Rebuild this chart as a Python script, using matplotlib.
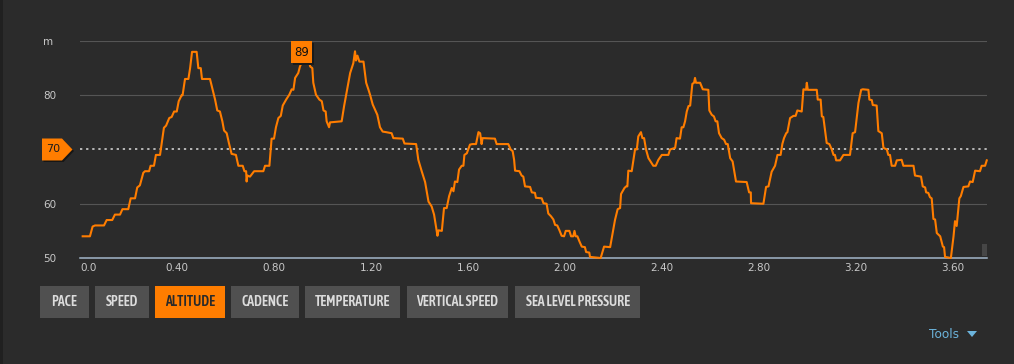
import matplotlib
matplotlib.use('Agg')
import matplotlib.pyplot as plt
from matplotlib.patches import Rectangle, Polygon
from matplotlib import font_manager
from matplotlib.font_manager import FontProperties

W, H = 1014, 364
BG = '#2b2b2b'
ORANGE = '#ff7d00'

# altitude profile (km, m)
dist_km = [0.011, 0.041, 0.052, 0.062, 0.099, 0.110, 0.133, 0.144, 0.165, 0.175,
           0.199, 0.209, 0.227, 0.236, 0.247, 0.261, 0.268, 0.285, 0.291, 0.305,
           0.313, 0.330, 0.346, 0.355, 0.368, 0.378, 0.388, 0.399, 0.407, 0.419,
           0.423, 0.433, 0.447, 0.454, 0.462, 0.481, 0.488, 0.498, 0.503, 0.536,
           0.547, 0.557, 0.566, 0.577, 0.587, 0.594, 0.605, 0.614, 0.625, 0.643,
           0.653, 0.671, 0.678, 0.685, 0.687, 0.690, 0.701, 0.718, 0.749, 0.756,
           0.763, 0.781, 0.790, 0.800, 0.808, 0.818, 0.828, 0.836, 0.850, 0.863,
           0.873, 0.880, 0.887, 0.900, 0.907, 0.914, 0.925, 0.933, 0.940, 0.946,
           0.949, 0.958, 0.962, 0.973, 0.987, 0.997, 1.004, 1.013, 1.017, 1.027,
           1.031, 1.079, 1.089, 1.100, 1.114, 1.127, 1.134, 1.138, 1.144, 1.152,
           1.169, 1.180, 1.189, 1.196, 1.207, 1.217, 1.226, 1.237, 1.248, 1.262,
           1.285, 1.292, 1.331, 1.338, 1.386, 1.395, 1.409, 1.423, 1.437, 1.450,
           1.460, 1.468, 1.474, 1.478, 1.492, 1.501, 1.512, 1.522, 1.533, 1.540,
           1.546, 1.556, 1.563, 1.574, 1.581, 1.585, 1.595, 1.608, 1.618, 1.633,
           1.643, 1.650, 1.656, 1.660, 1.711, 1.718, 1.766, 1.776, 1.784, 1.790,
           1.794, 1.812, 1.821, 1.828, 1.835, 1.856, 1.863, 1.876, 1.880, 1.904,
           1.911, 1.924, 1.931, 1.942, 1.952, 1.959, 1.968, 1.977, 1.986, 1.996,
           2.003, 2.018, 2.025, 2.034, 2.039, 2.044, 2.051, 2.059, 2.069, 2.082,
           2.087, 2.100, 2.103, 2.147, 2.161, 2.186, 2.197, 2.206, 2.217, 2.227,
           2.231, 2.245, 2.252, 2.257, 2.261, 2.275, 2.282, 2.289, 2.296, 2.302,
           2.313, 2.319, 2.326, 2.334, 2.344, 2.357, 2.364, 2.374, 2.385, 2.399,
           2.426, 2.433, 2.454, 2.460, 2.474, 2.481, 2.488, 2.495, 2.502, 2.509,
           2.516, 2.525, 2.532, 2.536, 2.540, 2.557, 2.568, 2.591, 2.595, 2.605,
           2.614, 2.621, 2.628, 2.635, 2.646, 2.656, 2.664, 2.671, 2.681, 2.691,
           2.705, 2.749, 2.759, 2.766, 2.767, 2.818, 2.829, 2.839, 2.852, 2.866,
           2.876, 2.889, 2.896, 2.903, 2.912, 2.917, 2.928, 2.942, 2.951, 2.958,
           2.976, 2.983, 2.994, 2.997, 3.001, 3.038, 3.042, 3.054, 3.059, 3.065,
           3.079, 3.090, 3.100, 3.107, 3.113, 3.118, 3.134, 3.148, 3.175, 3.186,
           3.196, 3.210, 3.221, 3.228, 3.251, 3.255, 3.265, 3.269, 3.285, 3.292,
           3.306, 3.313, 3.327, 3.333, 3.340, 3.347, 3.361, 3.368, 3.388, 3.395,
           3.437, 3.443, 3.468, 3.475, 3.485, 3.489, 3.498, 3.505, 3.512, 3.519,
           3.526, 3.533, 3.547, 3.558, 3.563, 3.567, 3.591, 3.602, 3.608, 3.615,
           3.626, 3.632, 3.643, 3.663, 3.670, 3.681, 3.691, 3.711, 3.718, 3.732, 3.739]
alt_m = [54, 54, 55.8, 56, 56, 57, 57, 58, 58, 59,
         59, 61, 61, 63, 63.4, 65.7, 66, 66, 67, 67,
         69, 69, 74, 74.4, 75.8, 76, 77, 77, 78.9, 80,
         80, 83, 83, 85, 88, 88, 85, 85, 83, 83,
         81, 79.2, 77.2, 77, 75.2, 73.5, 73, 71.2, 69.2, 69,
         67, 67, 66, 66, 64.1, 65.2, 65, 66, 66, 66,
         67, 67, 72, 72, 74.1, 75.8, 76.2, 78.1, 79.2, 80.1,
         81.1, 81, 83.2, 84.1, 85.3, 86, 88, 89, 88, 86,
         85.3, 85, 82.3, 80.1, 79.2, 78.9, 77.2, 77, 75.2, 74.1,
         75, 75.2, 78, 80.7, 84.1, 85.9, 88.1, 86.4, 87.3, 86.2,
         86.2, 82.3, 81.1, 80.1, 78.3, 77.3, 76.4, 74.1, 73.3, 73.2,
         73, 72.1, 72, 71.1, 71, 68.1, 66, 64, 60.4, 59.5,
         58, 55.8, 54.1, 55.1, 55, 59.2, 59.2, 61.4, 62.9, 62.3,
         64.1, 64, 66.3, 67, 67, 69, 69.3, 70.9, 71, 71,
         73.2, 73, 71, 72.1, 72, 71, 71, 70, 69.7, 68.1,
         66.1, 66, 65.2, 65, 63.2, 63.1, 62.1, 62, 61.1, 61,
         60.1, 60, 58.2, 57.7, 57.1, 56.1, 56, 55.1, 54.1, 54,
         55, 55, 54, 54, 55, 54, 54, 53.1, 52.1, 52,
         51.1, 51, 50.2, 50, 52.1, 52, 54.7, 57, 59, 59.2,
         61.8, 62.9, 63.2, 63.2, 66.1, 66, 68.1, 70.1, 70, 72.4,
         73.2, 72.1, 72.1, 70, 68.4, 67.5, 67, 67, 68.1, 69,
         69, 70, 70.3, 72.1, 72, 74.1, 74.1, 75.2, 77, 78,
         78.1, 82.1, 82.3, 83.2, 82.3, 82.3, 81.1, 81, 77.2, 76.4,
         76.1, 75.2, 75.2, 73, 72.1, 71.8, 71, 71, 68.4, 67.8,
         64.1, 64, 62.1, 62.1, 60.1, 60, 63.1, 63.2, 65.9, 67,
         69, 69, 71, 72.1, 73, 73.2, 75.8, 76.2, 76.2, 77.2,
         77, 81.1, 81, 82.3, 81, 81, 79.2, 79.2, 76.1, 76,
         71.2, 71, 70, 69, 69, 68, 68, 69, 69, 73,
         73.2, 78.6, 81, 81.1, 81, 79.2, 79.1, 78.2, 78.1, 73.4,
         73, 70.3, 70, 69, 69, 67, 67, 68, 68.1, 67,
         67, 65.2, 65, 63.2, 63, 62.1, 62, 61.2, 61, 57.2,
         57.1, 54.6, 54, 52.1, 52, 50.2, 50, 54, 56.8, 55.9,
         61, 61.4, 63.1, 63.2, 64.1, 64, 66.1, 66, 67, 67, 68]

xtick_vals = [0.0, 0.4, 0.8, 1.2, 1.6, 2.0, 2.4, 2.8, 3.2, 3.6]
xtick_text = ['0.0', '0.40', '0.80', '1.20', '1.60', '2.00', '2.40', '2.80', '3.20', '3.60']
ytick_vals = [50, 60, 80, 90]
ytick_text = ['50', '60', '80', 'm']
grid_vals = [60, 80, 90]
ref_alt = 70
hover_dist, hover_alt = 0.913, 89

buttons = ['PACE', 'SPEED', 'ALTITUDE', 'CADENCE', 'TEMPERATURE', 'VERTICAL SPEED', 'SEA LEVEL PRESSURE']
active_button = 'ALTITUDE'
btn_left = [40, 95, 155, 231, 305, 407, 515]
btn_width = [49, 54, 70, 68, 95, 101, 125]


def pick_button_font():
    # look for any condensed / narrow face; otherwise fall back on Roboto
    files = [f.fname for f in font_manager.fontManager.ttflist]
    for want in (('Condensed', 'SemiBold'), ('Condensed', 'Medium'), ('Narrow', 'Bold'),
                 ('Condensed', 'Bold'), ('Condensed', 'Regular'), ('Narrow', 'Regular')):
        for fn in files:
            base = fn.split('/')[-1]
            if all(w in base for w in want) and 'Semi' + want[0] not in base \
                    and 'Extra' + want[0] not in base and 'Italic' not in base:
                return FontProperties(fname=fn, size=10), True
    return FontProperties(family='Roboto', weight='medium', size=7.4), False


btn_prop, condensed = pick_button_font()

fig = plt.figure(figsize=(W / 100, H / 100), dpi=100, facecolor=BG)
ax = fig.add_axes([80 / W, 106 / H, 907 / W, 217 / H])
ax.set_facecolor(BG)
ax.set_xlim(0, 3.74)
ax.set_ylim(50, 90)
for s in ax.spines.values():
    s.set_visible(False)

for g in grid_vals:
    ax.axhline(g, color='#555555', lw=0.8, zorder=1)
ax.axhline(ref_alt, color='#dddddd', lw=1.1, linestyle=(0, (1.5, 2.5)), zorder=2)
ax.axhline(50, color='#a3b6c9', lw=1.1, zorder=3, clip_on=False)

ax.plot(dist_km, alt_m, color=ORANGE, lw=1.5, zorder=4, clip_on=False)

ax.set_xticks(xtick_vals)
ax.set_xticklabels(xtick_text)
ax.get_xticklabels()[0].set_ha('left')
ax.set_yticks(ytick_vals)
ax.set_yticklabels(ytick_text, ha='left')
ax.tick_params(axis='x', length=0, pad=3.5, labelsize=7.5, labelcolor='#c8c8c8')
ax.tick_params(axis='y', length=0, pad=26.6, labelsize=7.5, labelcolor='#c8c8c8')

fig.canvas.draw()

# reference-value marker on the left (70)
yc = ax.transData.transform((0, ref_alt))[1]
shape = [(42, yc + 11), (62, yc + 11), (72.5, yc), (62, yc - 11), (42, yc - 11)]
shadow = [(x + 1.5, y - 1.5) for x, y in shape]
fig.add_artist(Polygon(shadow, closed=True, transform=None, facecolor='#161616', edgecolor='none'))
fig.add_artist(Polygon(shape, closed=True, transform=None, facecolor=ORANGE, edgecolor='none'))
fig.text(53 / W, yc / H, str(ref_alt), ha='center', va='center', fontsize=8, color='#1c1c1c')

# hover value box
hx = ax.transData.transform((hover_dist, hover_alt))[0]
fig.add_artist(Rectangle((hx - 10.5 + 2, H - 63 - 2), 21, 22, transform=None,
                         facecolor='#1a1a1a', edgecolor='none'))
fig.add_artist(Rectangle((hx - 10.5, H - 63), 21, 22, transform=None,
                         facecolor=ORANGE, edgecolor='none'))
fig.text(hx / W, (H - 52) / H, str(hover_alt), ha='center', va='center', fontsize=8.5, color='#111111')

# small scroll handle at bottom right
fig.add_artist(Rectangle((982, H - 256), 5, 12, transform=None, facecolor='#464646', edgecolor='none'))
# darker strip on the left edge
fig.add_artist(Rectangle((0, 0), 3, H, transform=None, facecolor='#202020', edgecolor='none'))

# metric buttons
for name, left, wd in zip(buttons, btn_left, btn_width):
    on = name == active_button
    fig.add_artist(Rectangle((left, H - 318), wd, 32, transform=None,
                             facecolor=ORANGE if on else '#505050', edgecolor='none'))
    fig.text((left + wd / 2) / W, (H - 302) / H, name, ha='center', va='center',
             fontproperties=btn_prop, color='#2a2a2a' if on else '#dcdcdc')

# tools link
fig.text(944 / W, (H - 335) / H, 'Tools', ha='center', va='center', fontsize=8.7, color='#6cb4dc')
fig.add_artist(Polygon([(967, H - 331), (977, H - 331), (972, H - 337)], closed=True,
                       transform=None, facecolor='#6cb4dc', edgecolor='none'))

fig.savefig('out.png', dpi=100, facecolor=BG)
